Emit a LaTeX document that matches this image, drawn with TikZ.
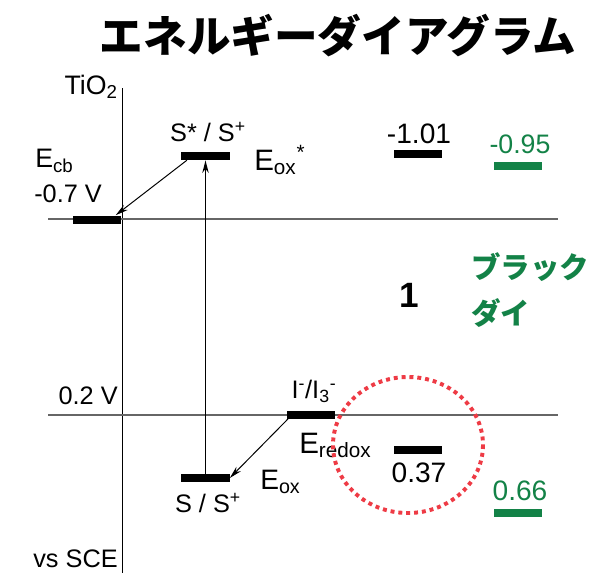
\documentclass[tikz,border=0pt]{standalone}
\usepackage{fontspec}
\setmainfont{Liberation Sans}
\newfontfamily\jpfont{Noto Sans CJK JP}
\usetikzlibrary{arrows.meta}
\definecolor{dyegreen}{HTML}{138247}
\definecolor{dotred}{HTML}{EE3B45}
\newcommand{\fsz}[1]{\fontsize{#1}{#1}\selectfont}
\tikzset{
  lvl/.style={fill=black, minimum width=1.2cm, minimum height=0.2cm, inner sep=0pt},
  glvl/.style={lvl, fill=dyegreen},
  lbl/.style={inner sep=0pt},
  xfer/.style={-{Stealth[length=9pt,width=4.5pt]}, line width=0.7pt}
}
\begin{document}
\begin{tikzpicture}[x=0.025cm, y=-0.025cm]
    \useasboundingbox (0,0) rectangle (603,573);
    \node[lbl] (title) at (338,36) {\jpfont\bfseries\fsz{31}エネルギーダイアグラム};

    % Axis and reference levels
    \draw[line width=0.7pt] (122,88) -- (122,573);
    \draw[black!60, line width=0.8pt] (48,219) -- (558,219);
    \draw[black!60, line width=0.8pt] (48,415) -- (558,415);
    \node[lbl, anchor=base east] (tio) at (118,94) {\fsz{19}TiO\textsubscript{2}};
    \node[lbl, anchor=base east] (vref) at (118,404) {\fsz{18}0.2 V};
    \node[lbl, anchor=base east] (sce) at (118,567) {\fsz{18}vs SCE};

    % Levels of the cell
    \node[lvl] (ecb) at (97,219.5) {};
    \node[lvl] (sox) at (205.5,156) {};
    \node[lvl] (s) at (205.5,478) {};
    \node[lvl] (redox) at (311,414.5) {};
    \node[lbl, anchor=base west] (ecbl) at (35,167) {\fsz{19}E\textsubscript{cb}};
    \node[lbl, anchor=base west] (ecbv) at (34,202) {\fsz{18}-0.7 V};
    \node[lbl, anchor=base] (soxl) at (208,141) {\fsz{18}S* / S\textsuperscript{+}};
    \node[lbl, anchor=base west] (eoxs) at (254,170) {\fsz{21}E\textsubscript{ox}\textsuperscript{*}};
    \node[lbl, anchor=base] (sl) at (208,512) {\fsz{18}S / S\textsuperscript{+}};
    \node[lbl, anchor=base west] (eox) at (260,489) {\fsz{20}E\textsubscript{ox}};
    \node[lbl, anchor=base] (redl) at (314,398) {\fsz{18}I\textsuperscript{-}/I\textsubscript{3}\textsuperscript{-}};
    \node[lbl, anchor=base west] (eredox) at (299,453) {\fsz{21}E\textsubscript{redox}};

    % Transfers
    \draw[xfer] ([xshift=4pt]sox.south west) -- ([xshift=-4pt]ecb.north east);
    \draw[xfer, line width=1pt] (s.north) -- (sox.south);
    \draw[xfer] ([xshift=1pt]redox.south west) -- (s.east);

    % Dye 1
    \node[lvl] (d1top) at (417.5,154) {};
    \node[lvl] (d1bot) at (417.5,449.5) {};
    \node[lbl, anchor=base] (d1topl) at (419,143) {\fsz{20}-1.01};
    \node[lbl, anchor=base] (d1botl) at (419,482) {\fsz{20}0.37};
    \node[lbl, anchor=base] (d1) at (409,307) {\fsz{25}\bfseries 1};

    % Black dye
    \node[glvl] (bdtop) at (517.5,166) {};
    \node[glvl] (bdbot) at (517.5,513) {};
    \node[lbl, anchor=base, text=dyegreen] (bdtopl) at (520,153) {\fsz{19}-0.95};
    \node[lbl, anchor=base, text=dyegreen] (bdbotl) at (520,500) {\fsz{20}0.66};
    \node[lbl, anchor=west, text=dyegreen, align=left,
          font=\jpfont\bfseries\fontsize{21}{33}\selectfont] (bd) at (471,290) {ブラック\\ダイ};

    \draw[dotred, line width=2.8pt, dash pattern=on 2.8pt off 2.8pt] (408,445) ellipse [x radius=75, y radius=68];
\end{tikzpicture}
\end{document}
